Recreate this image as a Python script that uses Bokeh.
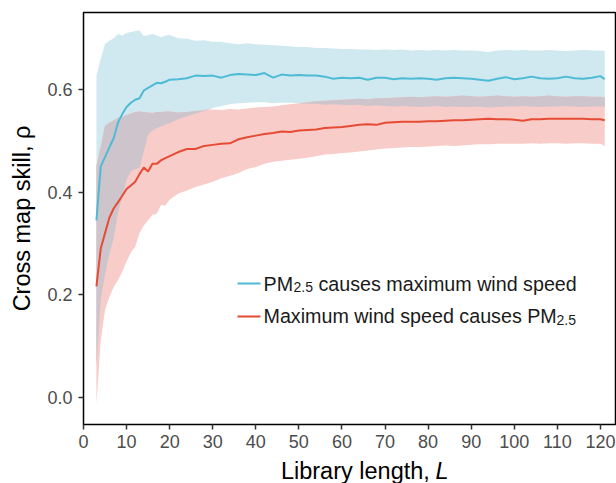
import numpy as np
from bokeh.plotting import figure
from bokeh.layouts import row, column
from bokeh.models import Label, BoxAnnotation, Range1d, FixedTicker
from bokeh.embed import file_html
from bokeh.resources import INLINE

# Library length L
L = [3, 4, 5, 6, 7, 8, 9, 10, 11, 12, 13, 14, 15, 16, 17, 18, 19, 20,
     22, 24, 26, 28, 30, 32, 34, 36, 38, 40, 42, 44, 46, 48, 50, 52, 54, 56, 58, 60,
     62, 64, 66, 68, 70, 72, 74, 76, 78, 80, 82, 84, 86, 88, 90, 92, 94, 96, 98, 100,
     102, 104, 106, 108, 110, 112, 114, 116, 118, 120, 121]

# PM2.5 causes maximum wind speed (mean, upper, lower)
blue_mean = [0.345, 0.450, 0.468, 0.487, 0.505, 0.535, 0.552, 0.566, 0.574, 0.580, 0.583, 0.598, 0.603, 0.608, 0.613, 0.612, 0.615, 0.619,
             0.620, 0.622, 0.627, 0.626, 0.627, 0.623, 0.628, 0.630, 0.629, 0.628, 0.632, 0.623, 0.629, 0.627, 0.628, 0.627, 0.627, 0.625, 0.621, 0.623,
             0.622, 0.623, 0.619, 0.623, 0.623, 0.620, 0.622, 0.621, 0.622, 0.621, 0.619, 0.622, 0.623, 0.622, 0.621, 0.619, 0.617, 0.621, 0.624, 0.620,
             0.622, 0.625, 0.622, 0.621, 0.622, 0.625, 0.622, 0.621, 0.623, 0.626, 0.620]
blue_hi = [0.627, 0.660, 0.689, 0.695, 0.700, 0.708, 0.705, 0.710, 0.712, 0.714, 0.715, 0.704, 0.706, 0.708, 0.705, 0.702, 0.705, 0.706,
           0.700, 0.699, 0.695, 0.696, 0.693, 0.693, 0.690, 0.688, 0.690, 0.688, 0.687, 0.686, 0.685, 0.684, 0.683, 0.683, 0.681, 0.681, 0.680, 0.679,
           0.679, 0.678, 0.678, 0.677, 0.678, 0.677, 0.678, 0.676, 0.677, 0.676, 0.677, 0.676, 0.677, 0.676, 0.676, 0.675, 0.673, 0.676, 0.677, 0.676,
           0.677, 0.676, 0.676, 0.677, 0.676, 0.675, 0.676, 0.677, 0.676, 0.676, 0.675]
blue_lo = [0.060, 0.190, 0.240, 0.280, 0.310, 0.360, 0.390, 0.425, 0.440, 0.445, 0.447, 0.480, 0.512, 0.520, 0.525, 0.528, 0.531, 0.534,
           0.542, 0.548, 0.553, 0.558, 0.564, 0.568, 0.571, 0.573, 0.574, 0.575, 0.575, 0.573, 0.574, 0.574, 0.573, 0.572, 0.572, 0.570, 0.571, 0.570,
           0.569, 0.570, 0.568, 0.569, 0.568, 0.567, 0.568, 0.567, 0.566, 0.567, 0.568, 0.566, 0.567, 0.566, 0.566, 0.567, 0.565, 0.566, 0.567, 0.567,
           0.568, 0.567, 0.566, 0.567, 0.567, 0.568, 0.567, 0.566, 0.567, 0.567, 0.566]

# Maximum wind speed causes PM2.5 (mean, upper, lower)
red_mean = [0.216, 0.290, 0.320, 0.350, 0.368, 0.380, 0.393, 0.406, 0.413, 0.420, 0.435, 0.448, 0.440, 0.455, 0.455, 0.462, 0.466, 0.470,
            0.478, 0.484, 0.484, 0.490, 0.492, 0.494, 0.495, 0.503, 0.507, 0.510, 0.513, 0.515, 0.518, 0.517, 0.520, 0.521, 0.522, 0.525, 0.526, 0.527,
            0.529, 0.531, 0.532, 0.531, 0.535, 0.536, 0.537, 0.537, 0.537, 0.538, 0.538, 0.539, 0.540, 0.540, 0.541, 0.542, 0.543, 0.542, 0.542, 0.541,
            0.539, 0.542, 0.542, 0.543, 0.543, 0.543, 0.543, 0.543, 0.542, 0.542, 0.540]
red_hi = [0.451, 0.490, 0.530, 0.535, 0.540, 0.545, 0.547, 0.550, 0.553, 0.556, 0.557, 0.556, 0.555, 0.554, 0.556, 0.556, 0.557, 0.557,
          0.555, 0.556, 0.558, 0.560, 0.561, 0.560, 0.562, 0.561, 0.563, 0.565, 0.566, 0.567, 0.569, 0.571, 0.573, 0.575, 0.577, 0.578, 0.579, 0.580,
          0.581, 0.582, 0.581, 0.583, 0.583, 0.584, 0.585, 0.586, 0.585, 0.586, 0.587, 0.586, 0.587, 0.588, 0.587, 0.586, 0.587, 0.588, 0.587, 0.586,
          0.587, 0.586, 0.587, 0.588, 0.587, 0.586, 0.587, 0.587, 0.586, 0.586, 0.585]
red_lo = [-0.013, 0.110, 0.170, 0.195, 0.215, 0.228, 0.245, 0.265, 0.282, 0.293, 0.320, 0.335, 0.345, 0.356, 0.358, 0.375, 0.374, 0.385,
          0.397, 0.403, 0.410, 0.415, 0.420, 0.427, 0.432, 0.437, 0.445, 0.449, 0.455, 0.459, 0.461, 0.463, 0.465, 0.467, 0.470, 0.473, 0.474, 0.476,
          0.477, 0.479, 0.481, 0.483, 0.485, 0.486, 0.487, 0.488, 0.488, 0.489, 0.490, 0.491, 0.490, 0.491, 0.492, 0.493, 0.493, 0.494, 0.494, 0.494,
          0.494, 0.495, 0.494, 0.495, 0.495, 0.494, 0.495, 0.495, 0.494, 0.494, 0.490]

x_ticks = [0, 10, 20, 30, 40, 50, 60, 70, 80, 90, 100, 110, 120]
y_ticks = [0.0, 0.2, 0.4, 0.6]

BLUE = "#4DBBD5"
RED = "#E64B35"
BLUE_FILL = "#d0e9f0"
RED_FILL = "#f8ccc8"
OVER_FILL = "#cdc5cb"
FONT = "Liberation Sans"

LEFT_W = 40      # width of the strip holding the y title
BOTTOM_H = 29    # height of the strip holding the x title
W, H = 616, 483
DY = 7           # measured offset of rendered alphabetic baseline

p = figure(width=W - LEFT_W, height=H - BOTTOM_H, output_backend="svg", toolbar_location=None,
           x_range=Range1d(0, 123.5), y_range=Range1d(-0.053, 0.750),
           min_border_left=43, min_border_right=1, min_border_top=12, min_border_bottom=30)
p.background_fill_color = "white"
p.border_fill_color = "white"
p.grid.visible = False
p.outline_line_color = "black"
p.outline_line_width = 1.5
p.outline_line_alpha = 1.0

La = np.array(L, dtype=float)
bl = np.array(blue_lo); bh = np.array(blue_hi)
rl = np.array(red_lo); rh = np.array(red_hi)
ov_lo = np.maximum(bl, rl)
ov_hi = np.maximum(np.minimum(bh, rh), ov_lo)

p.varea(x=La, y1=bl, y2=bh, fill_color=BLUE_FILL, fill_alpha=1.0)
p.varea(x=La, y1=rl, y2=rh, fill_color=RED_FILL, fill_alpha=1.0)
p.varea(x=La, y1=ov_lo, y2=ov_hi, fill_color=OVER_FILL, fill_alpha=1.0)
p.line(La, blue_mean, line_color=BLUE, line_width=2)
p.line(La, red_mean, line_color=RED, line_width=2)

for ax in (p.xaxis[0], p.yaxis[0]):
    ax.axis_line_color = None
    ax.major_tick_line_color = "#333333"
    ax.major_tick_line_width = 1.5
    ax.major_tick_out = 5
    ax.major_tick_in = 0
    ax.minor_tick_line_color = None
    ax.major_label_text_color = "#4d4d4d"
    ax.major_label_text_font = FONT
    ax.major_label_text_font_size = "18px"
    ax.axis_label = None
p.xaxis[0].ticker = FixedTicker(ticks=x_ticks)
p.yaxis[0].ticker = FixedTicker(ticks=y_ticks)
p.xaxis[0].major_label_standoff = 5
p.yaxis[0].major_label_standoff = 6
p.yaxis[0].major_label_overrides = {t: f"{t:.1f}" for t in y_ticks}

# frame origin in page coords: (83, 424); screen units relative to frame bottom-left
FX, FY = 83, 424

def lab(fig, text, x, y, size, units="screen", align="left", baseline="alphabetic",
        color="#1a1a1a", style="normal", angle=0.0):
    fig.add_layout(Label(x=x, y=y, x_units=units, y_units=units, text=text,
                         text_font=FONT, text_font_size=size, text_color=color, text_align=align,
                         text_baseline=baseline, text_font_style=style, angle=angle))

# legend (inside the main frame)
for (ly, col) in ((283, BLUE), (316, RED)):
    p.add_layout(BoxAnnotation(left=237 - FX, right=260 - FX, top=FY - ly + 1, bottom=FY - ly - 1,
                               left_units="screen", right_units="screen", top_units="screen", bottom_units="screen",
                               fill_color=col, fill_alpha=1.0, line_color=None))
LS = 19.7
lab(p, "PM", 263 - FX, FY - (290.7 - DY), f"{LS}px")
lab(p, "2.5", 293 - FX, FY - (293.5 - DY), "14px")
lab(p, "causes maximum wind speed", 318 - FX, FY - (290.7 - DY), f"{LS}px")
lab(p, "Maximum wind speed causes PM", 263 - FX, FY - (322.7 - DY), f"{LS}px")
lab(p, "2.5", 556 - FX, FY - (326 - DY), "14px")


def strip(width, height, xr, yr):
    f = figure(width=width, height=height, output_backend="svg", toolbar_location=None,
               x_range=Range1d(*xr), y_range=Range1d(*yr), x_axis_type=None, y_axis_type=None,
               min_border=0, min_border_left=0, min_border_right=0, min_border_top=0, min_border_bottom=0)
    f.grid.visible = False
    f.outline_line_color = None
    f.background_fill_color = "white"
    f.border_fill_color = "white"
    return f

# left strip: page coords, y downwards
left = strip(LEFT_W, H, (0, LEFT_W), (H, 0))
lab(left, "Cross map skill, \u03c1", 21, 218, "23.5px", units="data", align="center",
    baseline="middle", color="black", angle=np.pi / 2)

# bottom strip: page coords, y downwards
bottom = strip(W - LEFT_W, BOTTOM_H, (LEFT_W, W), (H, H - BOTTOM_H))
lab(bottom, "Library length,", 415, 477 - DY, "23.5px", units="data", align="right", color="black")
lab(bottom, "L", 421, 477 - DY, "23.5px", units="data", align="left", color="black", style="italic")

layout = row(left, column(p, bottom, spacing=0), spacing=0)

open("out.html", "w").write(file_html(layout, INLINE))
